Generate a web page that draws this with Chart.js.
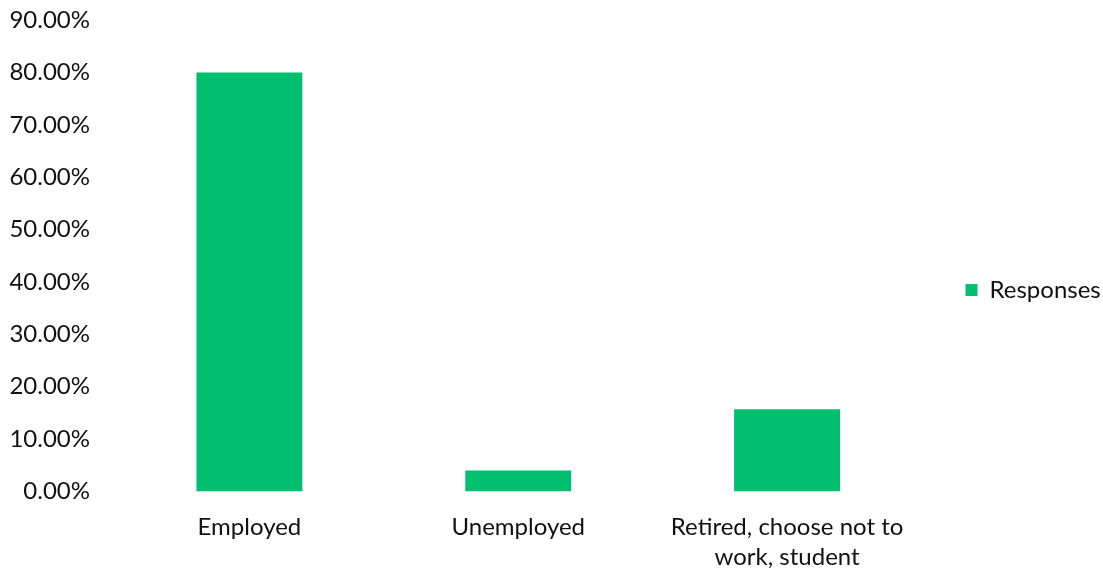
<!DOCTYPE html>
<html>
<head>
<meta charset="utf-8">
<script src="https://cdn.jsdelivr.net/npm/chart.js@4"></script>
<style>
    html, body { margin: 0; padding: 0; background: #fff; }
    #wrap { width: 1103px; height: 575px; }
</style>
</head>
<body>
<div id="wrap"><canvas id="statusChart"></canvas></div>
<script>
const categories = ['Employed', 'Unemployed', ['Retired, choose not to', 'work, student']];
const responses = [80, 4, 15.7];
const yTicks = [0, 10, 20, 30, 40, 50, 60, 70, 80, 90];

const green = '#00bf6f';
const textColor = '#111';
const font = { family: 'Lato, "Open Sans", sans-serif', size: 24, lineHeight: 1.25 };

// keep the legend box a fixed width so the plot ends where the reference does
const fixLegendWidth = {
    id: 'fixLegendWidth',
    beforeLayout(chart) {
        const legend = chart.legend;
        if (legend && !legend._fixedWidth) {
            const fit = legend.fit;
            legend.fit = function () {
                fit.call(this);
                this.width = 181.5;
            };
            legend._fixedWidth = true;
        }
    }
};

const ctx = document.getElementById('statusChart').getContext('2d');
const statusChart = new Chart(ctx, {
    type: 'bar',
    data: {
        labels: categories,
        datasets: [{
            label: 'Responses',
            data: responses,
            backgroundColor: green,
            borderWidth: 0,
            categoryPercentage: 1,
            barPercentage: 0.394
        }]
    },
    options: {
        responsive: true,
        maintainAspectRatio: false,
        animation: false,
        layout: { padding: { top: 5, right: 0, bottom: 0, left: 0 } },
        plugins: {
            tooltip: { enabled: false },
            legend: {
                position: 'right',
                labels: {
                    boxWidth: 12,
                    boxHeight: 12,
                    padding: 44,
                    color: textColor,
                    font: font
                }
            }
        },
        scales: {
            y: {
                min: yTicks[0],
                max: yTicks[yTicks.length - 1],
                afterBuildTicks: axis => { axis.ticks = yTicks.map(v => ({ value: v })); },
                afterFit: axis => {
                    axis.width = 115;
                    axis.paddingTop = 20;
                },
                ticks: {
                    callback: value => value.toFixed(2) + '%',
                    color: textColor,
                    font: font,
                    padding: 17
                },
                grid: { display: false },
                border: { display: false }
            },
            x: {
                afterFit: axis => { axis.height = 83.5; },
                ticks: {
                    color: textColor,
                    font: font,
                    maxRotation: 0,
                    autoSkip: false,
                    padding: 13
                },
                grid: { display: false },
                border: { display: false }
            }
        }
    },
    plugins: [fixLegendWidth]
});
</script>
</body>
</html>
